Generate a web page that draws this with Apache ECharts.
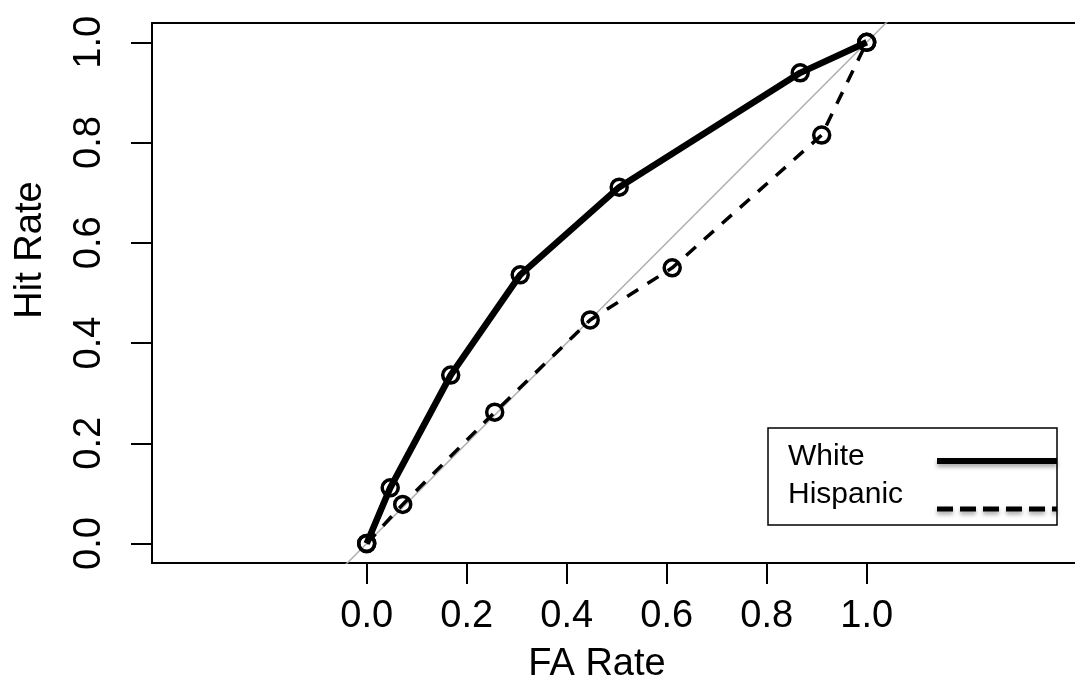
<!DOCTYPE html>
<html>
<head>
<meta charset="utf-8">
<script src="https://cdn.jsdelivr.net/npm/echarts@6/dist/echarts.min.js"></script>
<style>
  html, body { margin: 0; padding: 0; background: #fff; }
  #chart { width: 1075px; height: 696px; }
</style>
</head>
<body>
<div id="chart"></div>
<script>
// ROC points
const whiteFA  = [0, 0.047, 0.168, 0.307, 0.505, 0.867, 1.0];
const whiteHit = [0, 0.111, 0.336, 0.536, 0.711, 0.939, 1.0];
const hispFA   = [0, 0.072, 0.256, 0.447, 0.611, 0.910, 1.0];
const hispHit  = [0, 0.078, 0.262, 0.446, 0.550, 0.815, 1.0];
const chanceLine = [-0.1, 1.5];
const tickValues = [0, 0.2, 0.4, 0.6, 0.8, 1.0];
const seriesNames = ['White', 'Hispanic'];

const font = '"Liberation Sans", Arial, Helvetica, sans-serif';

let chart = echarts.init(document.getElementById('chart'), null, { renderer: 'canvas' });

const zip = (xs, ys) => xs.map((x, i) => [x, ys[i]]);

// plot box runs off the right edge, so its sides are drawn as axis lines (no right side)
const boxLine = { show: true, onZero: false, lineStyle: { color: '#000', width: 2 } };

let option = {
    backgroundColor: '#fff',
    animation: false,
    grid: { left: 152, top: 23, right: 0, bottom: 133 },
    xAxis: [{
        type: 'value',
        position: 'bottom',
        min: -0.4294,
        max: 1.4166,
        splitLine: { show: false },
        axisLine: boxLine,
        axisTick: {
            show: true,
            inside: false,
            length: 21,
            customValues: tickValues,
            lineStyle: { color: '#000', width: 2 }
        },
        axisLabel: {
            show: true,
            customValues: tickValues,
            formatter: v => v.toFixed(1),
            margin: 35,
            color: '#000',
            fontSize: 38,
            fontFamily: font
        }
    }, {
        // top side of the box
        type: 'value',
        position: 'top',
        min: -0.4294,
        max: 1.4166,
        splitLine: { show: false },
        axisLine: boxLine,
        axisTick: { show: false },
        axisLabel: { show: false }
    }],
    yAxis: {
        type: 'value',
        min: -0.0389,
        max: 1.0385,
        splitLine: { show: false },
        axisLine: boxLine,
        axisTick: {
            show: true,
            inside: false,
            length: 21,
            customValues: tickValues,
            lineStyle: { color: '#000', width: 2 }
        },
        axisLabel: {
            show: true,
            customValues: tickValues,
            formatter: v => v.toFixed(1),
            rotate: 90,
            margin: 43,
            color: '#000',
            fontSize: 38,
            fontFamily: font
        }
    },
    series: [
        {
            name: 'chance',
            type: 'line',
            data: zip(chanceLine, chanceLine),
            symbol: 'none',
            clip: true,
            silent: true,
            lineStyle: { color: '#b0b0b0', width: 1.5 },
            z: 1
        },
        {
            name: seriesNames[0],
            type: 'line',
            data: zip(whiteFA, whiteHit),
            symbol: 'circle',
            symbolSize: 16,
            itemStyle: { color: 'rgba(255,255,255,0)', borderColor: '#000', borderWidth: 3.5 },
            lineStyle: { color: '#000', width: 6.5 },
            z: 3
        },
        {
            name: seriesNames[1],
            type: 'line',
            data: zip(hispFA, hispHit),
            symbol: 'circle',
            symbolSize: 16,
            itemStyle: { color: 'rgba(255,255,255,0)', borderColor: '#000', borderWidth: 3.5 },
            lineStyle: { color: '#000', width: 3.5, type: [13, 11] },
            z: 2
        }
    ],
    graphic: [
        {
            type: 'text',
            x: 597, y: 665,
            style: { text: 'FA Rate', fontSize: 38, fontFamily: font, fill: '#000', align: 'center', verticalAlign: 'middle' }
        },
        {
            type: 'text',
            x: 31, y: 250,
            rotation: Math.PI / 2,
            style: { text: 'Hit Rate', fontSize: 38, fontFamily: font, fill: '#000', align: 'center', verticalAlign: 'middle' }
        },
        // legend box
        {
            type: 'rect',
            shape: { x: 768, y: 428, width: 289, height: 97 },
            style: { fill: '#fff', stroke: '#000', lineWidth: 1.5 },
            z: 10
        },
        {
            type: 'text',
            x: 788, y: 457,
            style: { text: seriesNames[0], fontSize: 30, fontFamily: font, fill: '#000', verticalAlign: 'middle' },
            z: 11
        },
        {
            type: 'text',
            x: 788, y: 495,
            style: { text: seriesNames[1], fontSize: 30, fontFamily: font, fill: '#000', verticalAlign: 'middle' },
            z: 11
        },
        {
            type: 'line',
            shape: { x1: 937, y1: 461, x2: 1057, y2: 461 },
            style: { stroke: '#000', lineWidth: 6, shadowBlur: 4, shadowOffsetY: 3, shadowColor: 'rgba(0,0,0,0.35)' },
            z: 11
        },
        {
            type: 'line',
            shape: { x1: 937, y1: 509, x2: 1057, y2: 509 },
            style: { stroke: '#000', lineWidth: 5, lineDash: [16, 7], shadowBlur: 4, shadowOffsetY: 3, shadowColor: 'rgba(0,0,0,0.35)' },
            z: 11
        }
    ]
};

chart.setOption(option);
</script>
</body>
</html>
